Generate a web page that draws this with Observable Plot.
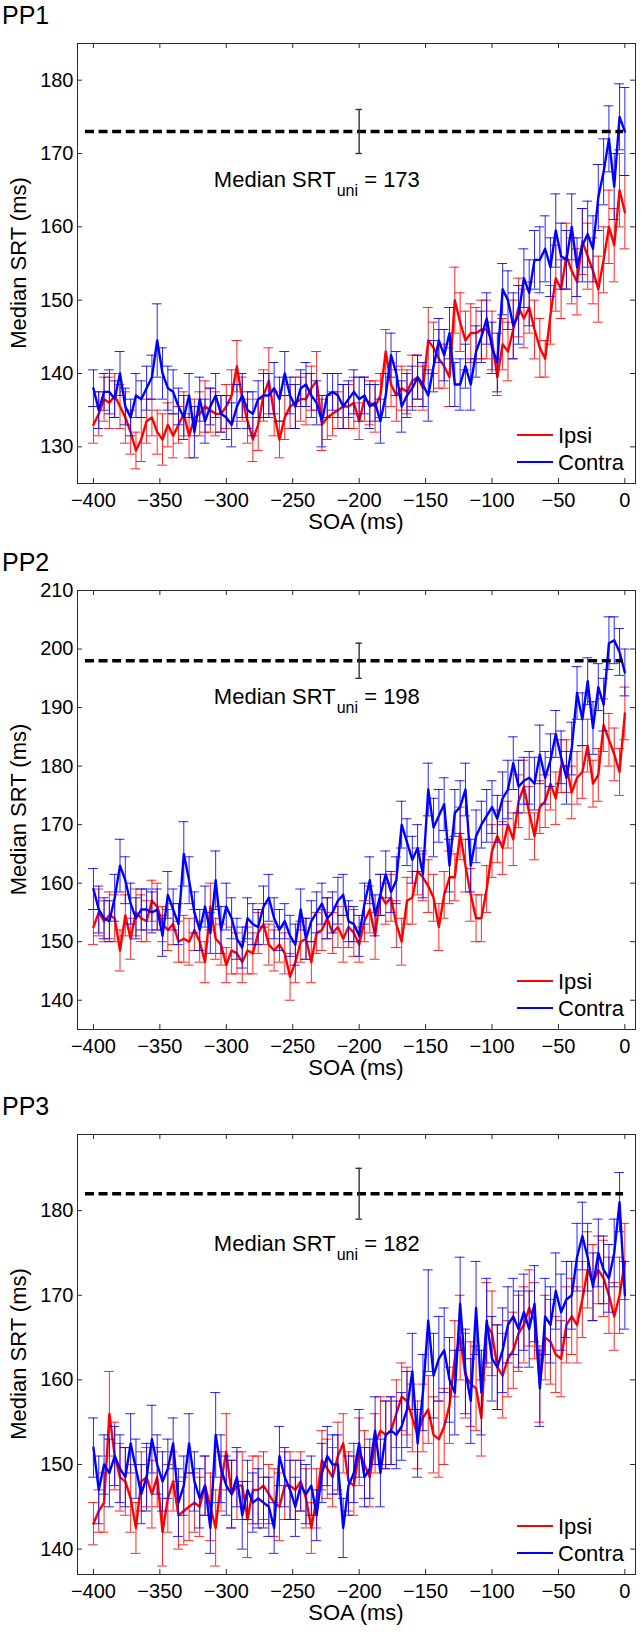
<!DOCTYPE html>
<html><head><meta charset="utf-8">
<script src="https://cdn.jsdelivr.net/npm/d3@7"></script>
<script src="https://cdn.jsdelivr.net/npm/@observablehq/plot@0.6"></script>
<style>
body{margin:0;background:#fff;}
#wrap{position:relative;width:642px;height:1632px;background:#fff;}
#wrap svg{position:absolute;left:0;overflow:visible;}
</style></head><body><div id="wrap"></div>
<script>
// ---------- data ----------
const soa = [
-400,-396,-392,-388,-384,-380,-376,-372,-368,-364,
-360,-356,-352,-348,-344,-340,-336,-332,-328,-324,
-320,-316,-312,-308,-304,-300,-296,-292,-288,-284,
-280,-276,-272,-268,-264,-260,-256,-252,-248,-244,
-240,-236,-232,-228,-224,-220,-216,-212,-208,-204,
-200,-196,-192,-188,-184,-180,-176,-172,-168,-164,
-160,-156,-152,-148,-144,-140,-136,-132,-128,-124,
-120,-116,-112,-108,-104,-100,-96,-92,-88,-84,
-80,-76,-72,-68,-64,-60,-56,-52,-48,-44,
-40,-36,-32,-28,-24,-20,-16,-12,-8,-4,
0];

const xTicks = [-400,-350,-300,-250,-200,-150,-100,-50,0];
const seriesNames = ["Ipsi","Contra"];
const panelTitles = ["PP1","PP2","PP3"];
const uniMedian = [173, 198, 182];
const uniErr = [3, 3, 3];
const yTicks1 = [130,140,150,160,170,180];
const yTicks2 = [140,150,160,170,180,190,200,210];
const yTicks3 = [140,150,160,170,180];

// PP1
const ipsi1 = [
133,134.5,136.5,136,137,135.5,134,132,129.5,131,
133.5,134,132,131,133,131.5,133,134.5,131.5,134,
134.5,135.5,135,134.5,134.5,135.5,137,141,136.5,133.5,
131,133,137,139,134.5,131,134,135.5,136,136.5,
136.5,138,139,133,134,134.5,135,135.5,135.5,136,
133.5,136.5,136,135.5,137,143,138.5,137,138,137.5,
139,139.5,138,144.5,143.5,142,141,139.5,150,147,
144.5,145.5,145.5,146,146,144.5,139.5,144,143,146,
149,147.5,149,146,143.5,142,148,153,151.5,156,
154,152.5,158,156,154,151.5,155.5,160,157.5,165,
162];
const ipsiErr1 = [
2.5,3,3,3.5,3,3,3.5,3,2.5,3,
3,2.5,3,3.5,3,3,2.5,3,3,2.5,
3,3.5,3,3,2.5,3,3.5,3.5,3,3,
3,3.5,3.5,4.5,3,2.5,3,3,3.5,3,
3.5,3,4,3.5,3,3,2.5,3,3,3.5,
2.5,3,3,3.5,3,3,3,3.5,3,3,
3.5,3,3,4.5,3.5,4,3,4,4.5,4,
4,4,3.5,4,4,4,2.5,3.5,4,4,
4,4,3.5,4,4,2.5,4,4.5,4,4.5,
4.5,4.5,4.5,4.5,4.5,4.5,4.5,5,5,5,
5];
const contra1 = [
138,135,137.5,137.5,136.5,140,135.5,134,137,136.5,
138,139.5,144.5,140,138,137.5,135.5,134,137,132,
136.5,133.5,135.5,137,134.5,134,133,135.5,137,135,
134.5,136.5,137,137,138,136.5,140,137,135.5,138,
138.5,137,136,133.5,137,137.5,137,135.5,136.5,137.5,
136.5,137,135.5,136,133.5,137,142.5,140,135.5,137,
138,139.5,138.5,137,141,144.5,142.5,145.5,138.5,138.5,
141,138.5,143,145,147.5,143.5,141.5,151.5,150,146.5,
148,153,151,155.5,155.5,157,154.5,159.5,156,155.5,
160,154.5,157.5,159,157,164,167.5,172,165.5,175,
173];
const contraErr1 = [
2.5,2.5,2.5,3,2.5,3,2.5,2.5,3,2.5,
3,3,5,3.5,3,3,2.5,3,3,3.5,
3,3,2.5,3,2.5,3,3,3,3,2.5,
3,2.5,3,3,3.5,3,3,2.5,3,2.5,
3,3,3,3.5,3,2.5,3,3,2.5,3,
3,2.5,3,2.5,3,3,3,3,3.5,3,
3,3,3,3.5,3.5,3,3.5,3.5,3,3.5,
3,3.5,3.5,3.5,3.5,3.5,4,3.5,4,4.5,
4,4,4.5,4,4.5,4.5,4,5,4.5,4,
4.5,4,5,4.5,4.5,4.5,4.5,4.5,4.5,4.5,
6];

// PP2
const ipsi2 = [
152.5,155,153.5,154.5,154,148.5,154.5,150.5,155,154,
153.5,157,156,153,152,153,150,150.5,150,152,
150,146.5,156,150.5,149.5,146,148.5,148,146.5,148.5,
148,151.5,153,149.5,148.5,149.5,148,144,146.5,150,
150.5,146.5,151.5,152,154,151.5,152.5,150.5,152.5,151.5,
149.5,153.5,155.5,151,158,156.5,157.5,153,150,157,
157.5,162,161,159.5,157.5,152.5,158,161,161,168.5,
163,158,154,154,159,165.5,168,166,170,167.5,
174,176.5,172,168,173,174,177,174.5,180,180,
175.5,178,179,183.5,177,178.5,187,184.5,182,179,
189];
const ipsiErr2 = [
3,4,3.5,4,4,3.5,3.5,3.5,4,4,
3.5,3.5,4,3,3.5,3.5,3.5,4,4,3.5,
3.5,3.5,4,3.5,3.5,3,4,3.5,3.5,4,
3.5,3.5,3.5,3.5,3.5,3,3.5,4,3.5,3.5,
3.5,3.5,3.5,3.5,3.5,3.5,3.5,4,3.5,4,
3,3.5,4,4,3.5,3.5,4,4,4,4,
4.5,4,4,4.5,4,4,4,4.5,4,4.5,
4.5,4.5,4,4,4,4.5,4.5,4.5,4,4.5,
4.5,4.5,4.5,4,4.5,4.5,4.5,4.5,4.5,4.5,
4.5,4.5,4.5,4.5,4,4.5,4.5,4.5,4.5,4,
4.5];
const contra2 = [
159,155.5,154,153.5,157.5,163,160.5,156.5,154,155.5,
155.5,155,155.5,151,158,155.5,153,165,160.5,155,
152,156,151.5,160.5,152,156,154,150.5,149,154,
153,152.5,156,157.5,154,152,153.5,151,149.5,155.5,
150.5,153.5,155,156.5,154,155,157,158,153.5,153,
151,156.5,160.5,154.5,158,161.5,158.5,160.5,170,167,
164,166,161.5,176,169.5,171.5,173.5,163,172,173,
176,163,168,170,171.5,173,171,174.5,176,180.5,
176.5,177.5,178,177,182,178,181,185.5,181.5,178,
183,192.5,188,194.5,186.5,193.5,190.5,201,201.5,199.5,
196];
const contraErr2 = [
3.5,4,3.5,3.5,4,4.5,4,3.5,3.5,3.5,
3.5,3.5,3.5,3.5,4,3.5,3.5,5.5,4,3.5,
3.5,3.5,3.5,5,4,4,3.5,3.5,3.5,3.5,
3.5,3,3.5,4,3.5,3.5,3,3.5,3.5,3.5,
3.5,3.5,3.5,3.5,3.5,3.5,4,3.5,3.5,3,
3.5,3.5,4,3.5,3.5,4,3.5,4,4,4,
4,4,4,4.5,5,4.5,4.5,4.5,4,4.5,
4.5,4.5,4.5,4,4.5,4.5,4,4.5,5,4.5,
4.5,4,4.5,4.5,5,4.5,4.5,4,4.5,4.5,
4.5,4.5,4.5,4,4.5,4,4.5,4.5,4,4,
4];

// PP3
const ipsi3 = [
143,144.5,145.5,156,151,148.5,148,146,142.5,148,
148.5,146.5,148.5,142,146,148,144,144.5,145,145.5,
145,147.5,145,142.5,148,151.5,146.5,147.5,147.5,143.5,
147,147,147.5,146.5,145.5,145,147.5,147.5,147,148,
146,142.5,146,150.5,149.5,148.5,151,152.5,148,147.5,
151.5,150,148.5,152.5,154,153.5,154,156,158,157.5,
155.5,153.5,155.5,156.5,153.5,153,154.5,157,162.5,165,
160.5,159.5,159,155.5,166.5,165.5,161.5,160.5,162.5,163.5,
165.5,166.5,168.5,167,159.5,165,164.5,163,162.5,166.5,
167.5,166.5,169.5,173,171.5,173,172,170,167.5,170,
174];
const ipsiErr3 = [
2.5,2.5,3.5,5,4,4,4,4,3,3.5,
3.5,4,3.5,4,4,3.5,4,4,4,3.5,
3.5,3.5,4,4.5,3.5,4.5,4,4,4,4.5,
4,4,4,3.5,4,4,4,4,3.5,3.5,
3.5,3,3.5,3.5,3.5,3.5,4,3.5,3.5,3.5,
4,4,3.5,3.5,4,4,4,4,4,4,
4,4,4,4,4.5,4.5,4.5,4.5,4.5,5,
5,5,5,4.5,5,5,5,5,4.5,4.5,
4.5,4.5,4.5,4.5,4.5,5,5,4.5,4.5,4.5,
4.5,4.5,4.5,4.5,4.5,4,4.5,4.5,4,4.5,
4.5];
const contra3 = [
152,147,150,149,151,149.5,148.5,152.5,149.5,146.5,
148.5,153,150,148,149.5,152.5,145.5,147.5,152.5,148,
146,147.5,142.5,153.5,149.5,147.5,146.5,148.5,144,147,
145.5,146,145.5,145,142.5,151,148.5,147,145,147.5,
146.5,147.5,144,149,151,150,150,142.5,147.5,149,
152.5,148.5,149.5,154,149,153.5,154,153.5,154.5,156.5,
161,152.5,158.5,167,160.5,162.5,163.5,160,158.5,169,
161,157.5,168.5,158.5,167,162.5,161.5,163.5,166.5,167.5,
166,168,166,169,159,167.5,166.5,170.5,168,169.5,
170,174.5,177,174.5,171,175,173,172,175,181,
170];
const contraErr3 = [
3.5,4,3.5,4,3.5,4,3.5,3.5,3.5,3.5,
4,4,3.5,3.5,3.5,3,4,3.5,3.5,3.5,
3.5,3.5,3,5,4,3.5,4,3.5,4,3.5,
3.5,3.5,3,3.5,3,3.5,3.5,3.5,3.5,3,
3.5,3.5,3,3.5,3.5,3.5,3.5,3.5,3.5,3.5,
4,3.5,3.5,4,4,4,4,4,4,4.5,
4.5,4,4.5,6,5,5,5,5,5,5.5,
5,5,5.5,5,5,5,5,5,4.5,4.5,
4.5,4.5,4.5,4.5,4.5,4.5,4.5,4.5,4.5,4.5,
4,4,4,4,4,4,4,4,4,3.5,
4];

// ---------- layout / style ----------
const FONT = "'Liberation Sans', Arial, Helvetica, sans-serif";
const RED = "#ff0000", BLUE = "#0000ff", FRAME = "#2b2b2b";
const W = 642, ML = 77, MR = 7;
const xDomain = [-412, 8];
const capHalf = 3.7;      // ms
const uniCapHalf = 2.4;   // ms
const annotX = -309;

const panels = [
  {title: panelTitles[0], ipsi: ipsi1, ipsiErr: ipsiErr1, contra: contra1, contraErr: contraErr1,
   uni: uniMedian[0], uniErr: uniErr[0], yDomain: [125,185], yTicks: yTicks1, annotY: 165.3,
   top: 0, height: 545, mt: 43, mb: 62},
  {title: panelTitles[1], ipsi: ipsi2, ipsiErr: ipsiErr2, contra: contra2, contraErr: contraErr2,
   uni: uniMedian[1], uniErr: uniErr[1], yDomain: [135,210], yTicks: yTicks2, annotY: 190.6,
   top: 546, height: 545, mt: 44, mb: 62},
  {title: panelTitles[2], ipsi: ipsi3, ipsiErr: ipsiErr3, contra: contra3, contraErr: contraErr3,
   uni: uniMedian[2], uniErr: uniErr[2], yDomain: [137,189], yTicks: yTicks3, annotY: 175.2,
   top: 1090, height: 542, mt: 44, mb: 58}
];

function errSeries(rows, color) {
  return [
    Plot.ruleX(rows, {x: "x", y1: d => d.v - d.e, y2: d => d.v + d.e, stroke: color, strokeWidth: 1, strokeOpacity: 0.85}),
    Plot.ruleY(rows, {y: d => d.v + d.e, x1: d => d.x - capHalf, x2: d => d.x + capHalf, stroke: color, strokeWidth: 1, strokeOpacity: 0.85}),
    Plot.ruleY(rows, {y: d => d.v - d.e, x1: d => d.x - capHalf, x2: d => d.x + capHalf, stroke: color, strokeWidth: 1, strokeOpacity: 0.85}),
    Plot.line(rows, {x: "x", y: "v", stroke: color, strokeWidth: 2.4, strokeLinejoin: "round"})
  ];
}

const wrap = document.getElementById("wrap");

panels.forEach(p => {
  const ipsiRows = soa.map((x, i) => ({x, v: p.ipsi[i], e: p.ipsiErr[i]}));
  const contraRows = soa.map((x, i) => ({x, v: p.contra[i], e: p.contraErr[i]}));
  const fw = W - ML - MR;
  const fh = p.height - p.mt - p.mb;
  const uniRow = [{x: -200, v: p.uni, e: p.uniErr}];

  const svgEl = Plot.plot({
    width: W, height: p.height,
    marginLeft: ML, marginRight: MR, marginTop: p.mt, marginBottom: p.mb,
    style: {fontFamily: FONT, fontSize: "20px", color: "#000", background: "transparent", overflow: "visible"},
    x: {domain: xDomain, ticks: xTicks, tickSize: 0, tickPadding: 9, label: null},
    y: {domain: p.yDomain, ticks: p.yTicks, tickSize: 0, tickPadding: 4, label: null},
    marks: [
      ...errSeries(ipsiRows, RED),
      ...errSeries(contraRows, BLUE),
      Plot.ruleY([p.uni], {y: d => d, x1: -406, x2: -1, stroke: "#000", strokeWidth: 3.6, strokeDasharray: "9,4.6"}),
      Plot.ruleX(uniRow, {x: "x", y1: d => d.v - d.e, y2: d => d.v + d.e, stroke: "#333", strokeWidth: 1.4}),
      Plot.ruleY(uniRow, {y: d => d.v + d.e, x1: d => d.x - uniCapHalf, x2: d => d.x + uniCapHalf, stroke: "#333", strokeWidth: 1.4}),
      Plot.ruleY(uniRow, {y: d => d.v - d.e, x1: d => d.x - uniCapHalf, x2: d => d.x + uniCapHalf, stroke: "#333", strokeWidth: 1.4}),
      Plot.tickX(xTicks, {x: d => d, insetTop: fh - 5, stroke: FRAME}),
      Plot.tickX(xTicks, {x: d => d, insetBottom: fh - 5, stroke: FRAME}),
      Plot.tickY(p.yTicks, {y: d => d, insetRight: fw - 5, stroke: FRAME}),
      Plot.tickY(p.yTicks, {y: d => d, insetLeft: fw - 5, stroke: FRAME}),
      Plot.frame({stroke: FRAME, strokeWidth: 1})
    ]
  });
  svgEl.style.top = p.top + "px";
  wrap.appendChild(svgEl);

  const svg = d3.select(svgEl);
  const xs = d3.scaleLinear(xDomain, [ML, W - MR]);
  const ys = d3.scaleLinear(p.yDomain, [p.height - p.mb, p.mt]);
  const fBottom = p.height - p.mb;

  // panel title
  svg.append("text").attr("x", 2).attr("y", p.mt - 19).attr("text-anchor", "start")
    .attr("font-family", FONT).attr("font-size", 25).attr("fill", "#000").text(p.title);

  // y label
  svg.append("text")
    .attr("transform", `translate(26,${(p.mt + fBottom) / 2}) rotate(-90)`)
    .attr("text-anchor", "middle").attr("font-family", FONT).attr("font-size", 22).attr("fill", "#000")
    .text("Median SRT (ms)");

  // x label
  svg.append("text").attr("x", (ML + W - MR) / 2).attr("y", fBottom + 46)
    .attr("text-anchor", "middle").attr("font-family", FONT).attr("font-size", 22).attr("fill", "#000")
    .text("SOA (ms)");

  // annotation with subscript
  const t = svg.append("text").attr("x", xs(annotX)).attr("y", ys(p.annotY)).attr("text-anchor", "start")
    .attr("font-family", FONT).attr("font-size", 22).attr("fill", "#000").style("white-space", "pre");
  t.append("tspan").text("Median SRT");
  t.append("tspan").attr("font-size", 16).attr("dx", 1).attr("dy", 9).text("uni");
  t.append("tspan").attr("dy", -9).text(" = " + p.uni);

  // legend
  const lg = [{name: seriesNames[0], color: RED, off: 48}, {name: seriesNames[1], color: BLUE, off: 21}];
  lg.forEach(l => {
    const ly = fBottom - l.off;
    svg.append("line").attr("x1", 517).attr("x2", 553).attr("y1", ly).attr("y2", ly)
      .attr("stroke", l.color).attr("stroke-width", 2);
    svg.append("text").attr("x", 558).attr("y", ly + 7.6).attr("text-anchor", "start")
      .attr("font-family", FONT).attr("font-size", 22).attr("fill", "#000").text(l.name);
  });
});
</script>
</body></html>
